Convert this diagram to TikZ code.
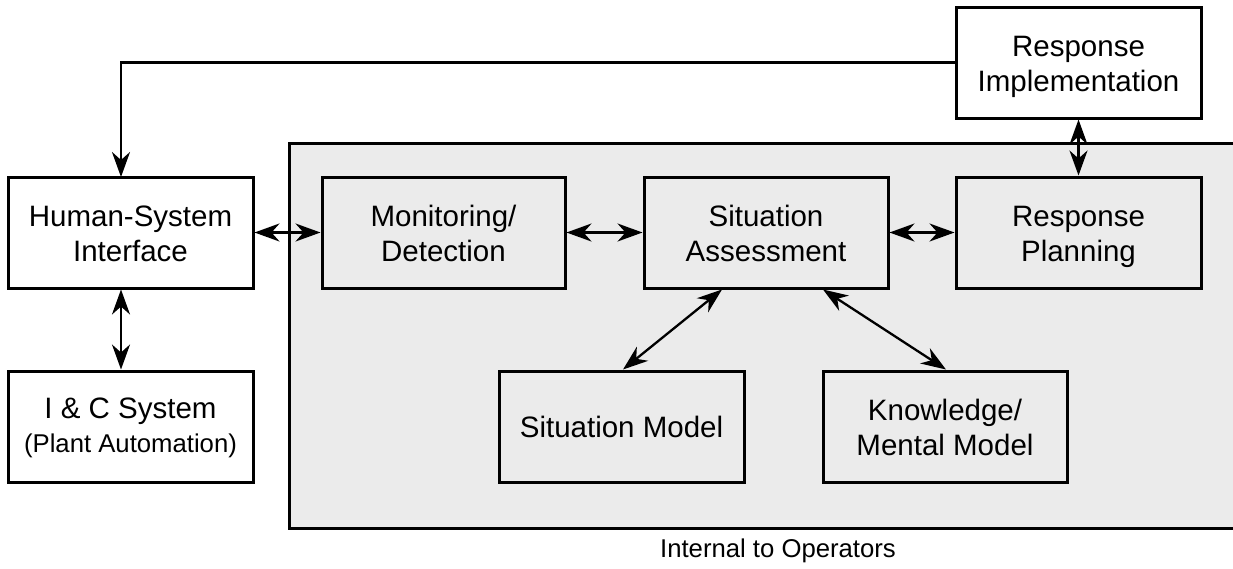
\documentclass[tikz,border=0pt]{standalone}
\usepackage{fontspec}
\setmainfont{Liberation Sans}
\usetikzlibrary{arrows.meta}
\definecolor{panelgray}{HTML}{EBEBEB}
\newcommand{\topstrut}{\rule[-6.5pt]{0pt}{35.5pt}}
\newcommand{\botstrut}{\rule[-6.5pt]{0pt}{1pt}}
\tikzset{
  tip/.tip={Stealth[length=25pt,width=18pt,inset=8pt]},
  conn/.style={line width=2.3pt},
  box/.style={draw, line width=3pt, rectangle, align=center, inner sep=0pt,
    minimum height=111pt, minimum width=#1,
    font=\fontsize{29.5}{35.5}\selectfont},
  box/.default=245pt,
  smalltext/.style={font=\fontsize{25.7}{30}\selectfont}
}
\begin{document}
\begin{tikzpicture}[x=1pt,y=-1pt]
\clip (0,0) rectangle (1233,568);
\fill[white] (0,0) rectangle (1233,568);
\draw[fill=panelgray, line width=3pt] (289,143) rectangle (1250,528);
\node[smalltext] (lbl) at (778,551) {Internal to Operators};

\node[box, fill=white] (hsi) at (130.5,232.5) {\topstrut Human-System\\Interface\botstrut};
\node[box, fill=white] (ic) at (130.5,426.5) {\topstrut I \& C System\\[-1.5pt]{\fontsize{25.7}{30}\selectfont (Plant Automation)}\rule[-12pt]{0pt}{1pt}};
\node[box=243pt] (mon) at (443.5,232.5) {\topstrut Monitoring/\\Detection\botstrut};
\node[box=244pt] (sa) at (766,232.5) {\topstrut Situation\\Assessment\botstrut};
\node[box] (rp) at (1078.5,232.5) {\topstrut Response\\Planning\botstrut};
\node[box, fill=white] (ri) at (1078.5,62.5) {\topstrut Response\\Implementation\botstrut};
\node[box] (sm) at (621.5,426.5) {\topstrut Situation Model\botstrut};
\node[box=244pt] (km) at (945,426.5) {\topstrut Knowledge/\\Mental Model\botstrut};

\coordinate (hsitop) at (121,177);
\draw[conn, -tip] (ri.west) -| (hsitop);
\draw[conn, tip-tip] ([xshift=-9.5pt]hsi.south) -- ([xshift=-9.5pt]ic.north);
\draw[conn, tip-tip] (hsi.east) -- (mon.west);
\draw[conn, tip-tip] (mon.east) -- (sa.west);
\draw[conn, tip-tip] (sa.east) -- (rp.west);
\draw[conn, tip-tip] (ri.south) -- (rp.north);
\draw[conn, tip-tip] ([xshift=-44pt]sa.south) -- ([xshift=1.5pt]sm.north);
\draw[conn, tip-tip] ([xshift=57pt]sa.south) -- ([xshift=1pt]km.north);
\end{tikzpicture}
\end{document}
